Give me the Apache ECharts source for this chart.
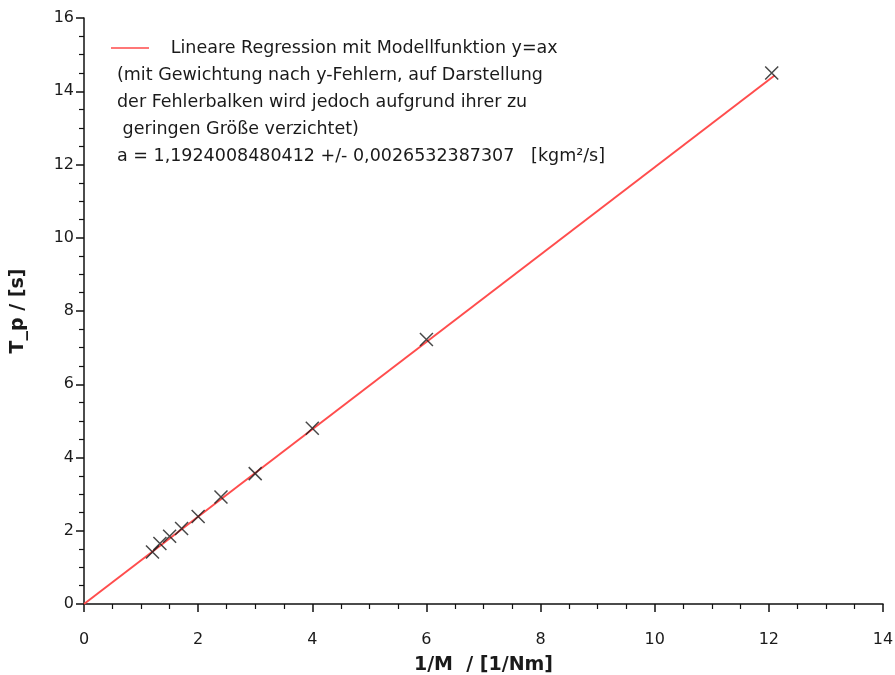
<!DOCTYPE html>
<html>
<head>
<meta charset="utf-8">
<script src="https://cdn.jsdelivr.net/npm/echarts@6/dist/echarts.min.js"></script>
<style>
html, body { margin: 0; padding: 0; background: #fff; }
#chart { width: 895px; height: 675px; }
</style>
</head>
<body>
<div id="chart"></div>
<script>
// Messwerte: 1/M in 1/Nm, T_p in s
var invM = [1.2, 1.33, 1.5, 1.71, 2.0, 2.4, 3.0, 4.0, 6.0, 12.05];
var tp = [1.42, 1.65, 1.85, 2.06, 2.39, 2.92, 3.56, 4.80, 7.22, 14.50];
// Regressionsgerade y=ax (Endpunkte aus dem Bild)
var fitX = [0, 12.1];
var fitY = [0, 14.43];
var fitName = 'Lineare Regression mit Modellfunktion y=ax';
var infoLines = [
    '(mit Gewichtung nach y-Fehlern, auf Darstellung',
    'der Fehlerbalken wird jedoch aufgrund ihrer zu',
    ' geringen Größe verzichtet)',
    'a = 1,1924008480412 +/- 0,0026532387307   [kgm²/s]'
];

var font = 'DejaVu Sans';
var myChart = echarts.init(document.getElementById('chart'));

var points = invM.map(function (x, i) { return [x, tp[i]]; });
var fitLine = fitX.map(function (x, i) { return [x, fitY[i]]; });

function axisStyle(name) {
    return {
        type: 'value',
        min: 0,
        interval: 2,
        name: name,
        nameLocation: 'middle',
        nameTextStyle: { fontFamily: font, fontWeight: 'bold', fontSize: 19, color: '#1a1a1a' },
        axisLine: { show: true, lineStyle: { color: '#111', width: 1.5 } },
        axisTick: { show: true, inside: false, length: 8, lineStyle: { color: '#111', width: 1.5 } },
        minorTick: { show: true, splitNumber: 4, length: 5, lineStyle: { color: '#111', width: 1.2 } },
        splitLine: { show: false },
        axisLabel: { fontFamily: font, fontSize: 16, color: '#1a1a1a' }
    };
}

var xAxis = axisStyle('1/M  / [1/Nm]');
xAxis.max = 14;
xAxis.nameGap = 52;
xAxis.axisLabel.margin = 28;

var yAxis = axisStyle('T_p / [s]');
yAxis.max = 16;
yAxis.nameGap = 56;
yAxis.axisLabel.margin = 10;

var option = {
    backgroundColor: '#fff',
    animation: false,
    grid: { left: 84, right: 12, top: 18, bottom: 71, outerBoundsMode: 'none' },
    xAxis: xAxis,
    yAxis: yAxis,
    legend: {
        left: 106,
        top: 34,
        itemWidth: 38,
        itemHeight: 14,
        data: [{ name: fitName, icon: 'path://M0,6L38,6L38,8L0,8Z' }],
        formatter: function (n) { return '   ' + n; },
        textStyle: { fontFamily: font, fontSize: 17.5, color: '#1a1a1a' }
    },
    graphic: [{
        type: 'text',
        left: 117,
        top: 62,
        style: {
            text: infoLines.join('\n'),
            font: '17.5px "' + font + '"',
            fill: '#1a1a1a',
            lineHeight: 27
        }
    }],
    series: [
        {
            name: fitName,
            type: 'line',
            data: fitLine,
            symbol: 'none',
            lineStyle: { color: '#ff4d4d', width: 2 },
            itemStyle: { color: '#ff7777' },
            z: 2
        },
        {
            name: 'Messwerte',
            type: 'scatter',
            data: points,
            symbol: 'path://M0,0L10,10M10,0L0,10',
            symbolSize: 13,
            itemStyle: { color: 'none', borderColor: '#1a1a1a', borderWidth: 1.5 },
            z: 3
        }
    ]
};

myChart.setOption(option);

window.addEventListener('resize', function () {
    myChart.resize();
});
</script>
</body>
</html>
